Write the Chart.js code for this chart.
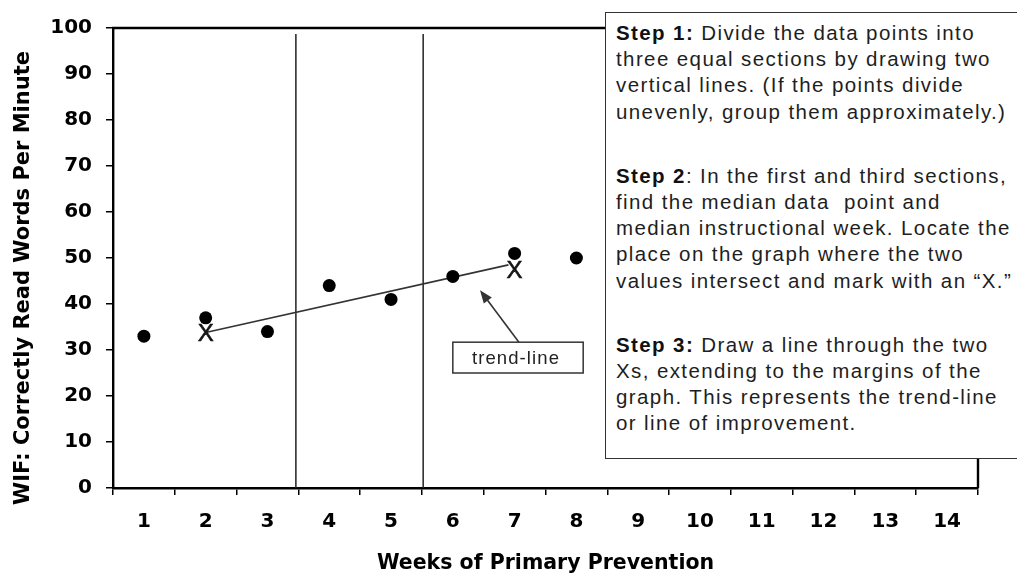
<!DOCTYPE html>
<html>
<head>
<meta charset="utf-8">
<script src="https://cdn.jsdelivr.net/npm/chart.js@4/dist/chart.umd.min.js"></script>
<style>
html,body{margin:0;padding:0;background:#fff;overflow:hidden;}
#wrap{position:relative;width:1017px;height:574px;overflow:hidden;}
#c{position:absolute;left:0;top:0;}
#note{position:absolute;left:605px;top:12px;width:450px;height:447px;box-sizing:border-box;
  border:1.5px solid #333;background:#fff;padding:7px 0 0 10px;white-space:nowrap;
  font-family:"Liberation Sans",Arial,sans-serif;font-size:20.5px;line-height:26.2px;letter-spacing:1.4px;color:#1e1e1e;}
#note p{margin:0 0 38px 0;}
#note b{font-weight:bold;color:#111;}
</style>
</head>
<body>
<div id="wrap">
<canvas id="c" width="1017" height="574"></canvas>
<div id="note">
<p><b>Step 1:</b> Divide the data points into<br>three equal sections by drawing two<br>vertical lines. (If the points divide<br>unevenly, group them approximately.)</p>
<p><b>Step 2</b>: In the first and third sections,<br>find the median data&nbsp; point and<br>median instructional week. Locate the<br>place on the graph where the two<br>values intersect and mark with an “X.”</p>
<p><b>Step 3:</b> Draw a line through the two<br>Xs, extending to the margins of the<br>graph. This represents the trend-line<br>or line of improvement.</p>
</div>
</div>
<script>
// ---- data ----
const weekLabels = ['1','2','3','4','5','6','7','8','9','10','11','12','13','14'];
const scoreWeeks = [1, 2, 3, 4, 5, 6, 7, 8];
const scores     = [33, 37, 34, 44, 41, 46, 51, 50];
const markWeeks  = [2, 7];
const markValues = [33.7, 47.6];
const trendWeeks  = [2, 6.9];
const trendValues = [33.8, 48.5];
const dividerWeeks = [3.46, 5.52];
const dividerRange = [0, 98.7];
const yTickValues = [0, 10, 20, 30, 40, 50, 60, 70, 80, 90, 100];
const yTitle = 'WIF: Correctly Read Words Per Minute';
const xTitle = 'Weeks of Primary Prevention';
const calloutText = 'trend-line';

const pairs = (xs, ys) => xs.map((x, i) => ({x: x, y: ys[i]}));

const boldFont = (size) => ({family: '"DejaVu Sans", sans-serif', weight: 'bold', size: size});

const datasets = [
  {label: 'scores', data: pairs(scoreWeeks, scores), xAxisID: 'xl', yAxisID: 'y',
   pointRadius: 6.5, pointBackgroundColor: '#000', pointBorderWidth: 0, showLine: false},
  {label: 'trend', data: pairs(trendWeeks, trendValues), xAxisID: 'xl', yAxisID: 'y',
   showLine: true, borderColor: '#333', borderWidth: 1.6, pointRadius: 0},
  {label: 'marks', data: pairs(markWeeks, markValues), xAxisID: 'xl', yAxisID: 'y',
   pointRadius: 0, showLine: false}
];
dividerWeeks.forEach(w => datasets.push({
  label: 'divider', data: pairs([w, w], dividerRange), xAxisID: 'xl', yAxisID: 'y',
  showLine: true, borderColor: '#222', borderWidth: 1.5, pointRadius: 0
}));

const overlay = {
  id: 'overlay',
  afterDatasetsDraw(chart) {
    const ctx = chart.ctx, a = chart.chartArea;
    const xs = chart.scales.xl, ys = chart.scales.y;
    const px = v => xs.getPixelForValue(v), py = v => ys.getPixelForValue(v);
    ctx.save();
    // top and right frame of the plot area
    ctx.strokeStyle = '#000'; ctx.lineWidth = 2.4;
    ctx.beginPath();
    ctx.moveTo(a.left - 1, a.top); ctx.lineTo(a.right, a.top); ctx.lineTo(a.right, a.bottom);
    ctx.stroke();
    // X marks
    const meta = chart.getDatasetMeta(2);
    ctx.font = '24px "Liberation Sans", Arial, sans-serif';
    ctx.textAlign = 'center'; ctx.textBaseline = 'alphabetic'; ctx.fillStyle = '#151515';
    ctx.lineWidth = 0.6; ctx.strokeStyle = '#151515';
    meta.data.forEach(p => { ctx.fillText('X', p.x, p.y + 8.5); ctx.strokeText('X', p.x, p.y + 8.5); });
    // callout box with arrow (anchored in data units)
    const bx0 = px(6.0), bx1 = px(8.11), by0 = py(31.7), by1 = py(25.0);
    ctx.fillStyle = '#fff'; ctx.fillRect(bx0, by0, bx1 - bx0, by1 - by0);
    ctx.strokeStyle = '#333'; ctx.lineWidth = 1.5;
    ctx.strokeRect(bx0, by0, bx1 - bx0, by1 - by0);
    ctx.fillStyle = '#222';
    ctx.font = '18.5px "Liberation Sans", Arial, sans-serif';
    try { ctx.letterSpacing = '1.1px'; } catch (e) {}
    ctx.textAlign = 'center'; ctx.textBaseline = 'middle';
    ctx.fillText(calloutText, (bx0 + bx1) / 2 - 2, (by0 + by1) / 2 + 1);
    try { ctx.letterSpacing = '0px'; } catch (e) {}
    const tx = px(7.07), ty = py(31.7), hx = px(6.44), hy = py(43.0);
    const ang = Math.atan2(hy - ty, hx - tx), L = 13, W = 5;
    ctx.strokeStyle = '#333'; ctx.lineWidth = 1.6;
    ctx.beginPath(); ctx.moveTo(tx, ty);
    ctx.lineTo(hx - Math.cos(ang) * (L - 2), hy - Math.sin(ang) * (L - 2)); ctx.stroke();
    ctx.fillStyle = '#333';
    ctx.beginPath();
    ctx.moveTo(hx, hy);
    ctx.lineTo(hx - Math.cos(ang) * L + Math.sin(ang) * W, hy - Math.sin(ang) * L - Math.cos(ang) * W);
    ctx.lineTo(hx - Math.cos(ang) * L - Math.sin(ang) * W, hy - Math.sin(ang) * L + Math.cos(ang) * W);
    ctx.closePath(); ctx.fill();
    ctx.restore();
  },
  afterDraw(chart) {
    const ctx = chart.ctx;
    ctx.save();
    ctx.translate(24, 278);
    ctx.rotate(-Math.PI / 2);
    ctx.font = 'bold 21px "DejaVu Sans", sans-serif';
    ctx.fillStyle = '#000'; ctx.textAlign = 'center'; ctx.textBaseline = 'middle';
    ctx.fillText(yTitle, 0, 0);
    ctx.restore();
  }
};

new Chart(document.getElementById('c'), {
  type: 'scatter',
  data: {labels: weekLabels, datasets: datasets},
  options: {
    responsive: false, animation: false, devicePixelRatio: 1,
    layout: {padding: {top: 28, right: 39, left: 0, bottom: 0}},
    plugins: {legend: {display: false}, tooltip: {enabled: false}},
    scales: {
      x: {
        type: 'category', labels: weekLabels, position: 'bottom', offset: true,
        grid: {offset: true, drawOnChartArea: false, drawTicks: true, tickLength: 7, color: '#000', lineWidth: 1.5},
        border: {display: true, color: '#000', width: 2.4},
        ticks: {color: '#000', font: boldFont(20), padding: 15, maxRotation: 0, autoSkip: false},
        title: {display: true, text: xTitle, color: '#000', font: boldFont(20.5), padding: {top: 0, bottom: -2}},
        afterFit(s) { s.height = 86; }
      },
      xl: {
        type: 'linear', position: 'bottom', display: false, min: 0.5, max: 14.5
      },
      y: {
        type: 'linear', position: 'left', min: 0, max: 100,
        afterBuildTicks(s) { s.ticks = yTickValues.map(v => ({value: v})); },
        grid: {drawOnChartArea: false, drawTicks: true, tickLength: 7, color: '#000', lineWidth: 1.5},
        border: {display: true, color: '#000', width: 2.4},
        ticks: {color: '#000', font: boldFont(20), padding: 14},
        afterFit(s) { s.width = 113; }
      }
    }
  },
  plugins: [overlay]
});
</script>
</body>
</html>
